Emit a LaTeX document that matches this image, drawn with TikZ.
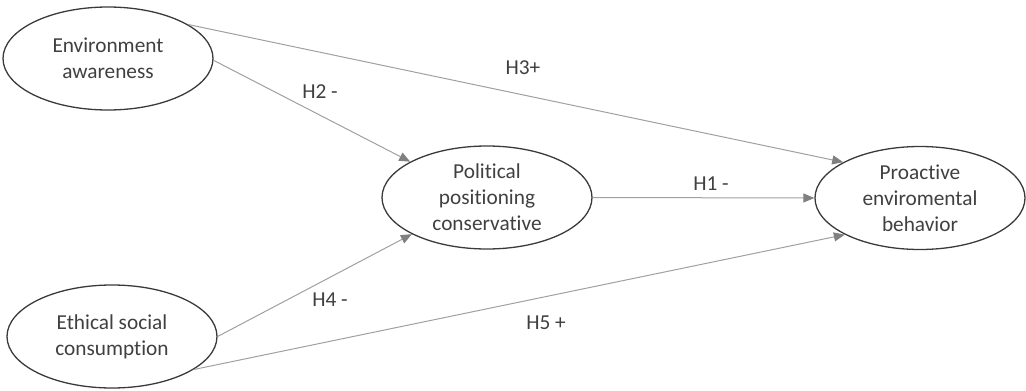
\documentclass[tikz,border=0pt]{standalone}
\usepackage{fontspec}
\setmainfont[Ligatures={NoCommon,NoRequired,NoContextual}]{Carlito}
\usetikzlibrary{shapes.geometric,arrows.meta}
\definecolor{txt}{HTML}{404040}
\definecolor{edge}{HTML}{3A3A3A}
\definecolor{conn}{HTML}{A0A0A0}
\definecolor{tip}{HTML}{808080}
\tikzset{
  construct/.style={ellipse, draw=edge, line width=1.3pt, minimum width=210pt, minimum height=103pt, inner sep=0pt, align=center, text=txt, font=\fontsize{21.3}{26}\selectfont},
  path/.style={draw=conn, line width=1pt, -{Triangle[length=11pt,width=9pt,color=tip]}},
  hyp/.style={text=txt, font=\fontsize{21.3}{26}\selectfont, inner sep=0pt}
}
\begin{document}
\begin{tikzpicture}[x=1pt,y=-1pt]
\useasboundingbox (0,0) rectangle (1026,391);
\node[construct] (env) at (108,58.5) {Environment\\awareness};
\node[construct] (eth) at (112,336.5) {Ethical social\\consumption};
\node[construct] (pol) at (487,197.5) {Political\\positioning\\conservative};
\node[construct] (pro) at (920,198) {Proactive\\enviromental\\behavior};
\draw[path] (env.23) -- (pro.155);
\draw[path] (env.-1) -- (pol.155);
\draw[path] (pol.east) -- (pro.west);
\draw[path] (eth.0) -- (pol.206);
\draw[path] (eth.-22) -- (pro.206);
\node[hyp] (h3) at (523,68) {H3+};
\node[hyp] (h2) at (320,92) {H2 -};
\node[hyp] (h1) at (711,184) {H1 -};
\node[hyp] (h4) at (330,300) {H4 -};
\node[hyp] (h5) at (546,323) {H5 +};
\end{tikzpicture}
\end{document}
